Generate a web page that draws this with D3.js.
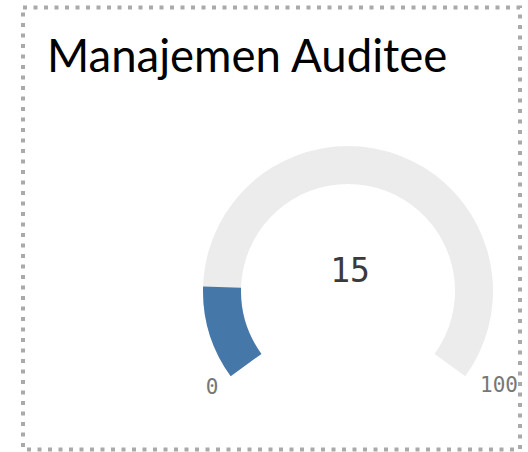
<!DOCTYPE html>
<html>
<head>
<meta charset="utf-8">
<script src="https://d3js.org/d3.v7.min.js"></script>
<style>
    body { margin: 0; background: #fff; }
    #gauge { display: block; }
</style>
</head>
<body>
<svg id="gauge" width="528" height="452"></svg>
<script>
var title = "Manajemen Auditee";
var gaugeValue = [15];
var gaugeDomain = [0, 100];
var tickLabels = ["0", "100"];

var svg = d3.select("#gauge"),
    width = +svg.attr("width"),
    height = +svg.attr("height");

// dotted frame around the panel
svg.append("rect")
    .attr("x", 23)
    .attr("y", 7.5)
    .attr("width", 497)
    .attr("height", 442)
    .attr("fill", "none")
    .attr("stroke", "#aaaaaa")
    .attr("stroke-width", 4)
    .attr("stroke-dasharray", "4,6.5");

svg.append("defs").append("clipPath")
    .attr("id", "panelClip")
    .append("rect")
    .attr("x", 25).attr("y", 9)
    .attr("width", 493).attr("height", 438);

svg.append("text")
    .attr("x", 47)
    .attr("y", 72)
    .style("font-family", "Lato, 'Open Sans', sans-serif")
    .style("font-size", "45.5px")
    .style("fill", "#000")
    .text(title);

var cx = 348, cy = 291, outerR = 145, innerR = 107;
var startAngle = -0.7 * Math.PI, endAngle = 0.7 * Math.PI;

var angle = d3.scaleLinear()
    .domain(gaugeDomain)
    .range([startAngle, endAngle]);

var arc = d3.arc()
    .innerRadius(innerR)
    .outerRadius(outerR);

var g = svg.append("g")
    .attr("clip-path", "url(#panelClip)")
    .append("g")
    .attr("transform", "translate(" + cx + "," + cy + ")");

g.append("path")
    .attr("d", arc({startAngle: angle(gaugeDomain[0]), endAngle: angle(gaugeDomain[1])}))
    .attr("fill", "#ececec");

g.selectAll("path.value")
    .data(gaugeValue)
    .enter().append("path")
    .attr("class", "value")
    .attr("d", function (d) {
        return arc({startAngle: angle(gaugeDomain[0]), endAngle: angle(d)});
    })
    .attr("fill", "#4677a9");

g.selectAll("text.value")
    .data(gaugeValue)
    .enter().append("text")
    .attr("class", "value")
    .attr("x", 2)
    .attr("y", -9)
    .attr("text-anchor", "middle")
    .style("font-family", "'DejaVu Sans Mono', monospace")
    .style("font-size", "33px")
    .style("fill", "#3a3a3a")
    .text(function (d) { return d; });

// min / max labels near the arc ends
var labelPos = [[-136, 103], [151, 101]];
g.selectAll("text.tick")
    .data(tickLabels)
    .enter().append("text")
    .attr("class", "tick")
    .attr("x", function (d, i) { return labelPos[i][0]; })
    .attr("y", function (d, i) { return labelPos[i][1]; })
    .attr("text-anchor", "middle")
    .style("font-family", "'DejaVu Sans Mono', monospace")
    .style("font-size", "21px")
    .style("fill", "#777")
    .text(function (d) { return d; });
</script>
</body>
</html>
